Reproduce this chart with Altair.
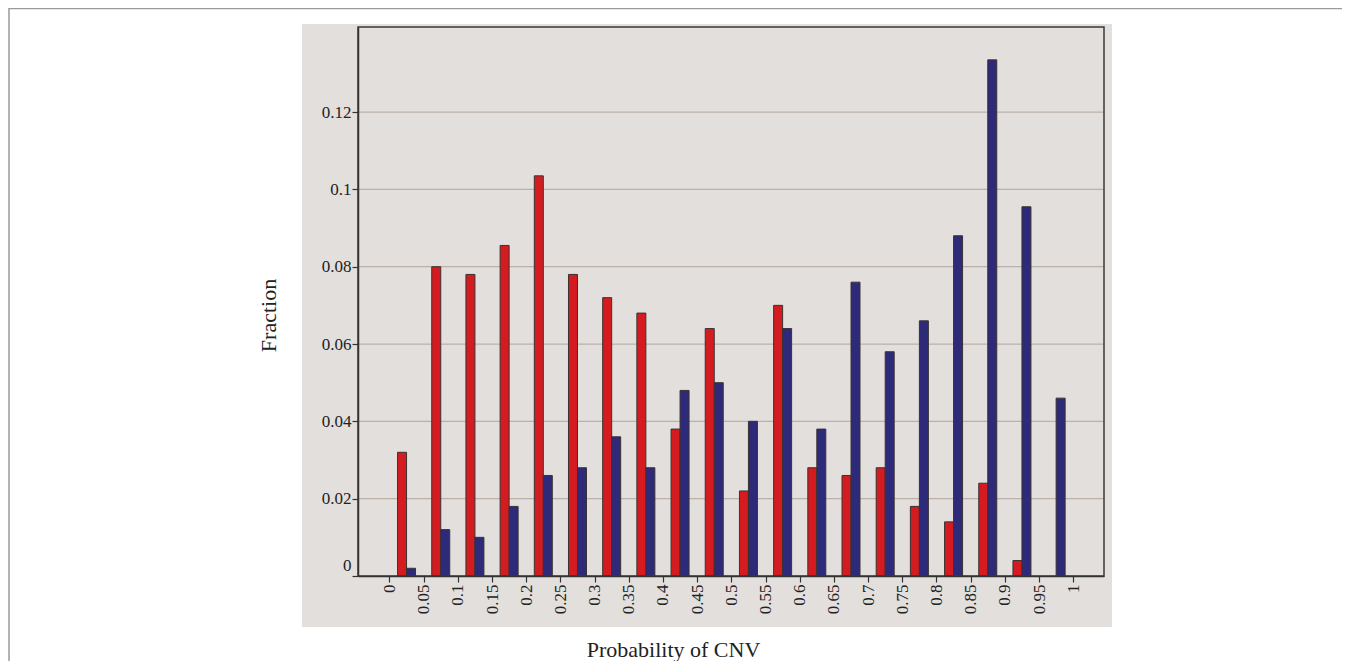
import altair as alt
import pandas as pd

# ---- data ----
bin_starts = [0.00, 0.05, 0.10, 0.15, 0.20, 0.25, 0.30, 0.35, 0.40, 0.45,
              0.50, 0.55, 0.60, 0.65, 0.70, 0.75, 0.80, 0.85, 0.90, 0.95]
red_values = [0.032, 0.080, 0.078, 0.0855, 0.1035, 0.078, 0.072, 0.068, 0.038, 0.064,
              0.022, 0.070, 0.028, 0.026, 0.028, 0.018, 0.014, 0.024, 0.004, 0.0]
blue_values = [0.002, 0.012, 0.010, 0.018, 0.026, 0.028, 0.036, 0.028, 0.048, 0.050,
               0.040, 0.064, 0.038, 0.076, 0.058, 0.066, 0.088, 0.1335, 0.0955, 0.046]
series_names = ["Series 1", "Series 2"]
x_ticks = [0, 0.05, 0.1, 0.15, 0.2, 0.25, 0.3, 0.35, 0.4, 0.45, 0.5,
           0.55, 0.6, 0.65, 0.7, 0.75, 0.8, 0.85, 0.9, 0.95, 1]
y_ticks = [0, 0.02, 0.04, 0.06, 0.08, 0.1, 0.12]
grid_ticks = [0.02, 0.04, 0.06, 0.08, 0.1, 0.12]

rows = []
for b, r, bl in zip(bin_starts, red_values, blue_values):
    rows.append({"bin": b, "series": series_names[0], "value": r})
    rows.append({"bin": b, "series": series_names[1], "value": bl})
df = pd.DataFrame(rows)
grid_df = pd.DataFrame({"v": grid_ticks})

W, H = 746, 549
SERIF = "Liberation Serif"
BAR_W = 0.01316

xscale = alt.Scale(domain=[-0.046, 1.045], nice=False, zero=False)
yscale = alt.Scale(domain=[0, 0.142], nice=False)

y_axis = alt.Axis(
    values=y_ticks, format="~g", grid=False, zindex=1,
    labelFont=SERIF, labelFontSize=17, labelColor="#222222", labelPadding=1,
    labelOffset={"condition": {"test": "datum.value === 0", "value": -11}, "value": 0},
    tickSize=6, tickColor="#333333", tickWidth=1.2,
    domainColor="#333333", domainWidth=1.5,
    title="Fraction", titleFont=SERIF, titleFontSize=22,
    titleFontWeight="normal", titleColor="#222222",
    titleX=-90, titleY=288, titleAngle=-90, titleAlign="center", titleBaseline="middle",
)

x_axis = alt.Axis(
    values=x_ticks, format="~g", labelAngle=-90, grid=False, zindex=1,
    labelFont=SERIF, labelFontSize=17, labelColor="#222222", labelPadding=2,
    tickSize=6, tickColor="#333333", tickWidth=1.2,
    domainColor="#333333", domainWidth=1.5,
    title="Probability of CNV", titleFont=SERIF, titleFontSize=22,
    titleFontWeight="normal", titleColor="#222222",
    titleX=315, titleY=80, titleAlign="center", titleBaseline="alphabetic",
)

one = alt.Data(values=[{"a": 1}])

panel = alt.Chart(one).mark_rect(fill="#e3dfdd", stroke=None).encode(
    x=alt.value(-56), x2=alt.value(754), y=alt.value(-3), y2=alt.value(600)
)

frame = alt.Chart(one).mark_rect(fillOpacity=0, stroke="#9a9a9a", strokeWidth=1.5).encode(
    x=alt.value(-349), x2=alt.value(1200), y=alt.value(-18.5), y2=alt.value(800)
)

grid = alt.Chart(grid_df).mark_rule(color="#bcb1a9", strokeWidth=1.3).encode(
    y=alt.Y("v:Q", scale=yscale, axis=y_axis),
    x=alt.value(0), x2=alt.value(W)
)

bars = alt.Chart(df).transform_filter(
    "datum.value > 0"
).transform_calculate(
    mid="datum.bin + 0.025",
).transform_calculate(
    xa=f"datum.series == '{series_names[0]}' ? datum.mid - {BAR_W} : datum.mid",
    xb=f"datum.series == '{series_names[0]}' ? datum.mid : datum.mid + {BAR_W}",
).mark_bar(stroke="#3a3232", strokeWidth=1).encode(
    x=alt.X("xa:Q", scale=xscale, axis=x_axis),
    x2="xb:Q",
    y=alt.Y("value:Q", scale=yscale, axis=y_axis),
    y2=alt.datum(0),
    color=alt.Color("series:N", scale=alt.Scale(domain=series_names,
                                                range=["#d41c20", "#2e2a7a"]), legend=None),
)

border = alt.Chart(one).mark_rect(fillOpacity=0, stroke="#3a3a3a", strokeWidth=1.5).encode(
    x=alt.value(0), x2=alt.value(W), y=alt.value(0), y2=alt.value(H)
)

chart = alt.layer(frame, panel, grid, bars, border).properties(
    width=W, height=H,
    autosize=alt.AutoSizeParams(type="none"),
    padding={"left": 350, "top": 19, "right": 238, "bottom": 85},
    background="white",
).configure_view(stroke=None, fill=None)

chart.save("out.html", embed_options={"renderer": "svg", "actions": False})
